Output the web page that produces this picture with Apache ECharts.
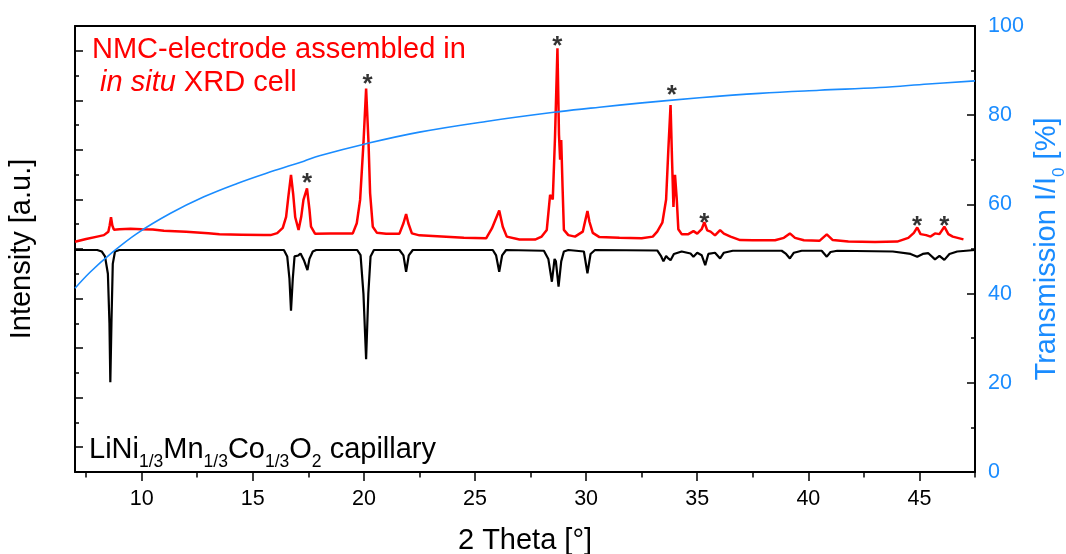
<!DOCTYPE html>
<html>
<head>
<meta charset="utf-8">
<script src="https://cdn.jsdelivr.net/npm/echarts@6/dist/echarts.min.js"></script>
<style>
  html, body { margin: 0; padding: 0; background: #ffffff; }
  #chart { width: 1066px; height: 554px; }
</style>
</head>
<body>
<div id="chart"></div>
<script>
// 2θ tick positions (degrees)
const THETA_MAJOR_TICKS = [10, 15, 20, 25, 30, 35, 40, 45];
const THETA_MINOR_TICKS = [7.5, 12.5, 17.5, 22.5, 27.5, 32.5, 37.5, 42.5, 47.5];

// NMC electrode measured in the in situ XRD cell: [2θ (°), intensity (a.u.)]
const ELECTRODE = [
  [7.0, 9.29], [7.5, 9.40], [8.0, 9.50], [8.3, 9.56], [8.5, 9.70], [8.56, 9.95], [8.62, 10.28],
  [8.68, 9.95], [8.75, 9.78], [9.0, 9.80], [9.5, 9.82], [10.0, 9.80], [10.5, 9.79], [11.0, 9.74],
  [12.0, 9.70], [13.0, 9.64], [13.5, 9.60], [14.5, 9.58], [15.5, 9.56], [15.8, 9.56], [16.1, 9.64],
  [16.35, 9.85], [16.5, 10.3], [16.6, 11.1], [16.72, 11.99], [16.82, 11.2], [16.91, 10.28],
  [17.06, 9.77], [17.18, 10.3], [17.28, 10.98], [17.44, 11.45], [17.55, 10.6], [17.62, 9.9],
  [17.8, 9.62], [18.5, 9.63], [19.5, 9.63], [19.68, 10.04], [19.83, 10.98], [19.98, 13.26],
  [20.1, 15.48], [20.21, 13.26], [20.28, 11.25], [20.4, 9.9], [20.58, 9.66], [21.0, 9.62],
  [21.6, 9.62], [21.78, 10.04], [21.9, 10.41], [22.0, 10.04], [22.16, 9.63], [22.5, 9.55],
  [23.5, 9.50], [24.5, 9.45], [25.5, 9.43], [25.76, 9.83], [26.09, 10.55], [26.25, 9.9],
  [26.43, 9.50], [27.0, 9.38], [27.7, 9.38], [28.0, 9.50], [28.23, 9.77], [28.38, 11.18],
  [28.5, 11.0], [28.6, 13.5], [28.71, 17.1], [28.78, 13.6], [28.83, 12.6], [28.88, 13.4],
  [28.94, 11.5], [29.0, 9.77], [29.2, 9.56], [29.5, 9.50], [29.85, 9.70], [29.95, 10.1],
  [30.06, 10.53], [30.15, 10.1], [30.3, 9.65], [30.6, 9.48], [31.5, 9.45], [32.5, 9.43],
  [33.0, 9.50], [33.2, 9.70], [33.43, 10.06], [33.6, 11.0], [33.7, 13.0], [33.8, 14.81],
  [33.87, 12.5], [33.93, 10.7], [34.0, 11.99], [34.08, 11.0], [34.15, 9.8], [34.3, 9.60],
  [34.6, 9.60], [34.83, 9.72], [35.0, 9.62], [35.2, 9.80], [35.32, 10.08], [35.45, 9.75],
  [35.6, 9.70], [35.8, 9.55], [36.03, 9.76], [36.2, 9.62], [36.5, 9.50], [36.93, 9.36],
  [37.5, 9.35], [38.5, 9.35], [38.9, 9.45], [39.17, 9.63], [39.4, 9.45], [39.8, 9.35],
  [40.5, 9.33], [40.83, 9.59], [41.1, 9.36], [41.8, 9.30], [43.0, 9.28], [44.0, 9.30],
  [44.5, 9.45], [44.75, 9.65], [44.9, 9.87], [45.05, 9.60], [45.3, 9.56], [45.5, 9.50],
  [45.7, 9.63], [45.9, 9.60], [46.12, 9.90], [46.3, 9.60], [46.5, 9.50], [46.98, 9.39]
];

// LiNi1/3Mn1/3Co1/3O2 capillary reference, drawn downwards: [2θ (°), intensity (a.u.)]
const CAPILLARY = [
  [7.0, 8.96], [8.0, 8.96], [8.2, 8.90], [8.35, 8.70], [8.48, 8.0], [8.55, 6.0], [8.59, 3.62],
  [8.64, 6.0], [8.7, 8.4], [8.8, 8.90], [9.0, 8.96], [16.4, 8.96], [16.55, 8.70], [16.65, 7.8],
  [16.72, 6.51], [16.8, 7.8], [16.88, 8.70], [16.97, 8.78], [17.05, 8.74], [17.15, 8.82],
  [17.3, 8.55], [17.46, 8.15], [17.55, 8.60], [17.7, 8.90], [17.85, 8.96], [19.7, 8.96],
  [19.85, 8.75], [19.98, 7.2], [20.1, 4.55], [20.2, 7.2], [20.3, 8.70], [20.45, 8.96],
  [21.6, 8.96], [21.78, 8.74], [21.9, 8.08], [22.02, 8.74], [22.2, 8.96], [25.8, 8.96],
  [25.95, 8.74], [26.09, 8.08], [26.22, 8.74], [26.4, 8.96], [28.1, 8.93], [28.3, 8.60],
  [28.46, 7.68], [28.58, 8.60], [28.64, 8.50], [28.76, 7.48], [28.88, 8.50], [29.0, 8.90],
  [29.2, 8.96], [29.9, 8.90], [30.06, 8.02], [30.2, 8.80], [30.4, 8.96], [33.2, 8.94],
  [33.38, 8.70], [33.48, 8.50], [33.6, 8.72], [33.7, 8.62], [33.8, 8.55], [33.95, 8.80],
  [34.3, 8.90], [34.7, 8.82], [34.83, 8.69], [35.0, 8.85], [35.2, 8.75], [35.36, 8.35],
  [35.5, 8.80], [35.8, 8.85], [36.03, 8.62], [36.2, 8.85], [36.6, 8.93], [38.8, 8.93],
  [39.0, 8.80], [39.17, 8.62], [39.35, 8.85], [39.7, 8.93], [40.6, 8.93], [40.83, 8.69],
  [41.0, 8.88], [41.3, 8.93], [43.8, 8.90], [44.6, 8.80], [44.9, 8.69], [45.15, 8.80],
  [45.4, 8.83], [45.7, 8.58], [45.9, 8.72], [46.12, 8.56], [46.35, 8.80], [46.7, 8.90],
  [47.5, 8.96]
];

// Transmission I/I0 of the cell window: [2θ (°), %]
const TRANSMISSION = [
  [7.0, 41.2], [7.7, 44.9], [8.6, 48.9], [9.8, 53.5], [11.3, 58.0], [12.8, 61.7], [14.3, 64.7],
  [15.8, 67.3], [17.3, 69.7], [18.0, 70.9], [20.1, 73.6], [22.5, 76.2], [25.5, 78.6],
  [28.8, 80.8], [30.6, 81.8], [32.4, 82.7], [35.1, 83.9], [37.8, 84.9], [40.5, 85.6],
  [43.2, 86.2], [45.4, 87.0], [47.5, 87.7]
];

// Reflections marked with an asterisk: [2θ (°), intensity (a.u.)]
const MARKED_REFLECTIONS = [
  [17.44, 11.92], [20.17, 15.89], [28.70, 17.46], [33.86, 15.48],
  [35.32, 10.30], [44.89, 10.17], [46.12, 10.17]
];

const FONT = '"Liberation Sans", Arial, Helvetica, sans-serif';
const BLUE = '#1a8cff';
const RED = '#ff0000';

const tickStyle = { color: '#000', width: 1.5 };
const frameLine = { show: true, onZero: false, lineStyle: { color: '#000', width: 2 } };

const chart = echarts.init(document.getElementById('chart'), null, { renderer: 'canvas' });

chart.setOption({
  animation: false,
  backgroundColor: '#ffffff',
  grid: { left: 75, right: 91, top: 26, bottom: 82, containLabel: false, outerBoundsMode: 'none' },
  xAxis: [
    {
      type: 'value', min: 7, max: 47.5, position: 'bottom',
      axisLine: frameLine,
      axisTick: { show: true, inside: false, length: 9, lineStyle: tickStyle, customValues: THETA_MAJOR_TICKS },
      axisLabel: { show: true, customValues: THETA_MAJOR_TICKS, fontSize: 21.5, fontFamily: FONT, color: '#000', margin: 16 },
      splitLine: { show: false },
      name: '2 Theta [°]', nameLocation: 'middle', nameGap: 54, nameMoveOverlap: false,
      nameTextStyle: { fontSize: 29, fontFamily: FONT, color: '#000' }
    },
    {
      type: 'value', min: 7, max: 47.5, position: 'bottom',
      axisLine: { show: false, onZero: false },
      axisTick: { show: true, inside: false, length: 5.5, lineStyle: tickStyle, customValues: THETA_MINOR_TICKS },
      axisLabel: { show: false },
      splitLine: { show: false }
    },
    {
      type: 'value', min: 7, max: 47.5, position: 'top',
      axisLine: frameLine,
      axisTick: { show: false }, axisLabel: { show: false }, splitLine: { show: false }
    }
  ],
  yAxis: [
    {
      type: 'value', min: 0, max: 18, interval: 2, position: 'left',
      axisLine: frameLine,
      axisTick: { show: true, inside: true, length: 4, lineStyle: tickStyle },
      minorTick: { show: true, splitNumber: 2, length: 8, lineStyle: tickStyle },
      axisLabel: { show: false },
      splitLine: { show: false }, minorSplitLine: { show: false },
      name: 'Intensity [a.u.]', nameLocation: 'middle', nameRotate: 90, nameGap: 39, nameMoveOverlap: false,
      nameTextStyle: { fontSize: 29, fontFamily: FONT, color: '#000' }
    },
    {
      type: 'value', min: 0, max: 100, interval: 20, position: 'right',
      axisLine: frameLine,
      axisTick: { show: true, inside: true, length: 8, lineStyle: tickStyle },
      minorTick: { show: true, splitNumber: 2, length: 4, lineStyle: tickStyle },
      axisLabel: { show: true, fontSize: 21.5, fontFamily: FONT, color: BLUE, margin: 13 },
      splitLine: { show: false }, minorSplitLine: { show: false },
      name: 'Transmission I/I{sub|0} [%]', nameLocation: 'middle', nameRotate: 90, nameGap: 50,
      nameMoveOverlap: false,
      nameTextStyle: {
        fontSize: 29, fontFamily: FONT, color: BLUE, lineHeight: 43,
        rich: { sub: { fontSize: 17, fontFamily: FONT, color: BLUE, lineHeight: 17, verticalAlign: 'bottom' } }
      }
    }
  ],
  graphic: [
    {
      type: 'text', left: 92, top: 33, z: 10,
      style: {
        text: 'NMC-electrode assembled in\n {it|in situ} XRD cell',
        fill: RED, font: '29px ' + FONT, lineHeight: 33,
        rich: { it: { fill: RED, fontSize: 29, fontFamily: FONT, fontStyle: 'italic', lineHeight: 33 } }
      }
    },
    {
      type: 'text', left: 89, top: 428, z: 10,
      style: {
        text: 'LiNi{s|1/3}Mn{s|1/3}Co{s|1/3}O{s|2} capillary',
        fill: '#000', font: '29px ' + FONT, lineHeight: 43,
        rich: { s: { fill: '#000', fontSize: 17.5, fontFamily: FONT, lineHeight: 17, verticalAlign: 'bottom' } }
      }
    }
  ],
  series: [
    {
      name: 'capillary', type: 'line', xAxisIndex: 0, yAxisIndex: 0, data: CAPILLARY,
      showSymbol: false, symbol: 'none', lineStyle: { color: '#000', width: 2.2 }, z: 2
    },
    {
      name: 'electrode', type: 'line', xAxisIndex: 0, yAxisIndex: 0, data: ELECTRODE,
      showSymbol: false, symbol: 'none', lineStyle: { color: RED, width: 2.5 }, z: 3
    },
    {
      name: 'transmission', type: 'line', xAxisIndex: 0, yAxisIndex: 1, data: TRANSMISSION,
      showSymbol: false, symbol: 'none', smooth: 0.4, lineStyle: { color: BLUE, width: 1.6 }, z: 4
    },
    {
      name: 'marked', type: 'scatter', xAxisIndex: 0, yAxisIndex: 0, data: MARKED_REFLECTIONS,
      symbol: 'circle', symbolSize: 1, itemStyle: { color: 'rgba(0,0,0,0)' }, z: 5,
      label: {
        show: true, position: 'inside', formatter: '*', offset: [0, 7],
        fontSize: 26, fontWeight: 'bold', fontFamily: FONT, color: '#000'
      }
    }
  ]
});
</script>
</body>
</html>
